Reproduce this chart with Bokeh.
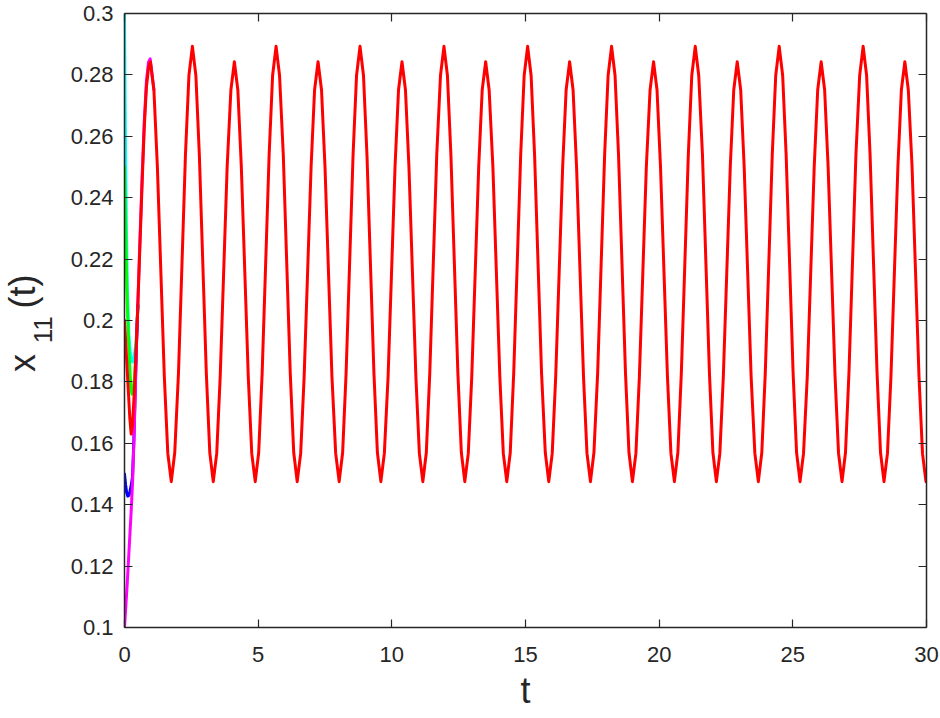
from math import pi
from bokeh.plotting import figure
from bokeh.layouts import row
from bokeh.models import Range1d, FixedTicker, CustomJSTickFormatter, LinearAxis
from bokeh.core.properties import value
from bokeh.embed import file_html
from bokeh.resources import INLINE

# ---- data ----
x_ticks = [0, 5, 10, 15, 20, 25, 30]
y_ticks = [0.1, 0.12, 0.14, 0.16, 0.18, 0.2, 0.22, 0.24, 0.26, 0.28, 0.3]

cyan_t = [0.0, 0.02, 0.045, 0.075, 0.11, 0.16, 0.21, 0.26, 0.3, 0.36, 0.42, 0.46, 0.5]
cyan_x = [0.300, 0.275, 0.250, 0.228, 0.209, 0.196, 0.190, 0.187, 0.1865, 0.188, 0.192, 0.197, 0.205]

green_t = [0.0, 0.03, 0.06, 0.09, 0.12, 0.16, 0.2, 0.24, 0.28, 0.33, 0.38, 0.44, 0.5]
green_x = [0.250, 0.236, 0.222, 0.210, 0.201, 0.192, 0.184, 0.178, 0.176, 0.177, 0.182, 0.193, 0.205]

blue_t = [0.0, 0.04, 0.08, 0.12, 0.16, 0.2, 0.25, 0.3, 0.35, 0.4, 0.45, 0.5]
blue_x = [0.150, 0.1465, 0.144, 0.1428, 0.143, 0.1442, 0.1462, 0.149, 0.161, 0.177, 0.193, 0.205]

magenta_t = [0.0, 0.05, 0.1, 0.15, 0.2, 0.25, 0.3, 0.35, 0.4, 0.45, 0.5, 0.58, 0.66, 0.74, 0.82, 0.9, 0.96, 1.10]
magenta_x = [0.100, 0.107, 0.114, 0.122, 0.130, 0.138, 0.147, 0.160, 0.176, 0.192, 0.206, 0.227, 0.247, 0.265, 0.278, 0.2842, 0.2852, 0.2751]

red_t = [
    0.0, 0.05, 0.1, 0.15, 0.2, 0.25, 0.3, 0.35, 0.42, 0.5, 0.58, 0.66, 0.74, 0.82, 0.9,
    0.97, 1.10, 1.23, 1.36, 1.49, 1.62, 1.75, 1.88, 2.02, 2.15, 2.28, 2.41,
    2.54, 2.67, 2.80, 2.93, 3.06, 3.19, 3.32, 3.45, 3.58, 3.71, 3.84, 3.98,
    4.11, 4.24, 4.37, 4.50, 4.63, 4.76, 4.89, 5.02, 5.15, 5.28, 5.41, 5.54,
    5.67, 5.80, 5.94, 6.07, 6.20, 6.33, 6.46, 6.59, 6.72, 6.85, 6.98, 7.11,
    7.24, 7.37, 7.50, 7.63, 7.76, 7.90, 8.03, 8.16, 8.29, 8.42, 8.55, 8.68,
    8.81, 8.94, 9.07, 9.20, 9.33, 9.46, 9.59, 9.72, 9.86, 9.99, 10.12, 10.25,
    10.38, 10.51, 10.64, 10.77, 10.90, 11.03, 11.16, 11.29, 11.42, 11.55, 11.68, 11.82,
    11.95, 12.08, 12.21, 12.34, 12.47, 12.60, 12.73, 12.86, 12.99, 13.12, 13.25, 13.38,
    13.51, 13.64, 13.78, 13.91, 14.04, 14.17, 14.30, 14.43, 14.56, 14.69, 14.82, 14.95,
    15.08, 15.21, 15.34, 15.47, 15.60, 15.74, 15.87, 16.00, 16.13, 16.26, 16.39, 16.52,
    16.65, 16.78, 16.91, 17.04, 17.17, 17.30, 17.43, 17.56, 17.70, 17.83, 17.96, 18.09,
    18.22, 18.35, 18.48, 18.61, 18.74, 18.87, 19.00, 19.13, 19.26, 19.39, 19.52, 19.66,
    19.79, 19.92, 20.05, 20.18, 20.31, 20.44, 20.57, 20.70, 20.83, 20.96, 21.09, 21.22,
    21.35, 21.48, 21.62, 21.75, 21.88, 22.01, 22.14, 22.27, 22.40, 22.53, 22.66, 22.79,
    22.92, 23.05, 23.18, 23.31, 23.44, 23.58, 23.71, 23.84, 23.97, 24.10, 24.23, 24.36,
    24.49, 24.62, 24.75, 24.88, 25.01, 25.14, 25.27, 25.40, 25.54, 25.67, 25.80, 25.93,
    26.06, 26.19, 26.32, 26.45, 26.58, 26.71, 26.84, 26.97, 27.10, 27.23, 27.36, 27.50,
    27.63, 27.76, 27.89, 28.02, 28.15, 28.28, 28.41, 28.54, 28.67, 28.80, 28.93, 29.06,
    29.19, 29.32, 29.46, 29.59, 29.72, 29.85, 29.98, 30.0,
]
red_x = [
    0.200, 0.192, 0.184, 0.176, 0.168, 0.163, 0.166, 0.174, 0.187, 0.205, 0.225, 0.245, 0.263, 0.276, 0.2825,
    0.2843, 0.2751, 0.2501, 0.2159, 0.1817, 0.1567, 0.1475, 0.1570, 0.1830, 0.2184, 0.2539, 0.2798,
    0.2893, 0.2798, 0.2539, 0.2184, 0.1830, 0.1570, 0.1475, 0.1567, 0.1817, 0.2159, 0.2501, 0.2751,
    0.2843, 0.2751, 0.2501, 0.2159, 0.1817, 0.1567, 0.1475, 0.1570, 0.1830, 0.2184, 0.2539, 0.2798,
    0.2893, 0.2798, 0.2539, 0.2184, 0.1830, 0.1570, 0.1475, 0.1567, 0.1817, 0.2159, 0.2501, 0.2751,
    0.2843, 0.2751, 0.2501, 0.2159, 0.1817, 0.1567, 0.1475, 0.1570, 0.1830, 0.2184, 0.2539, 0.2798,
    0.2893, 0.2798, 0.2539, 0.2184, 0.1830, 0.1570, 0.1475, 0.1567, 0.1817, 0.2159, 0.2501, 0.2751,
    0.2843, 0.2751, 0.2501, 0.2159, 0.1817, 0.1567, 0.1475, 0.1570, 0.1830, 0.2184, 0.2539, 0.2798,
    0.2893, 0.2798, 0.2539, 0.2184, 0.1830, 0.1570, 0.1475, 0.1567, 0.1817, 0.2159, 0.2501, 0.2751,
    0.2843, 0.2751, 0.2501, 0.2159, 0.1817, 0.1567, 0.1475, 0.1570, 0.1830, 0.2184, 0.2539, 0.2798,
    0.2893, 0.2798, 0.2539, 0.2184, 0.1830, 0.1570, 0.1475, 0.1567, 0.1817, 0.2159, 0.2501, 0.2751,
    0.2843, 0.2751, 0.2501, 0.2159, 0.1817, 0.1567, 0.1475, 0.1570, 0.1830, 0.2184, 0.2539, 0.2798,
    0.2893, 0.2798, 0.2539, 0.2184, 0.1830, 0.1570, 0.1475, 0.1567, 0.1817, 0.2159, 0.2501, 0.2751,
    0.2843, 0.2751, 0.2501, 0.2159, 0.1817, 0.1567, 0.1475, 0.1570, 0.1830, 0.2184, 0.2539, 0.2798,
    0.2893, 0.2798, 0.2539, 0.2184, 0.1830, 0.1570, 0.1475, 0.1567, 0.1817, 0.2159, 0.2501, 0.2751,
    0.2843, 0.2751, 0.2501, 0.2159, 0.1817, 0.1567, 0.1475, 0.1570, 0.1830, 0.2184, 0.2539, 0.2798,
    0.2893, 0.2798, 0.2539, 0.2184, 0.1830, 0.1570, 0.1475, 0.1567, 0.1817, 0.2159, 0.2501, 0.2751,
    0.2843, 0.2751, 0.2501, 0.2159, 0.1817, 0.1567, 0.1475, 0.1570, 0.1830, 0.2184, 0.2539, 0.2798,
    0.2893, 0.2798, 0.2539, 0.2184, 0.1830, 0.1570, 0.1475, 0.1567, 0.1817, 0.2159, 0.2501, 0.2751,
    0.2843, 0.2751, 0.2501, 0.2159, 0.1817, 0.1567, 0.1475, 0.1477,
]

y_label_parts = ["x", "11", "(t)"]

# ---- layout constants ----
AX = "#262626"
FONT = "Liberation Sans"
H = 715
LEFT_W = 62

# main plot
p = figure(width=940 - LEFT_W, height=H, output_backend="svg", toolbar_location=None,
           x_range=Range1d(0, 30), y_range=Range1d(0.1, 0.3),
           min_border_left=124 - LEFT_W, min_border_right=14, min_border_top=13, min_border_bottom=88,
           background_fill_color="white", border_fill_color="white")
p.outline_line_color = None
p.xgrid.visible = False
p.ygrid.visible = False

lk = dict(line_width=3, line_join="round", line_cap="round")
p.line(cyan_t, cyan_x, line_color="#00ffff", **lk)
p.line(green_t, green_x, line_color="#00ff00", **lk)
p.line(blue_t, blue_x, line_color="#0000ff", **lk)
p.line(magenta_t, magenta_x, line_color="#ff00ff", **lk)
p.line(red_t, red_x, line_color="#ff0000", **lk)

fmt = CustomJSTickFormatter(code="return String(Math.round(tick*100)/100);")
blank = CustomJSTickFormatter(code="return '';")

def style_axis(ax, ticks, show_labels):
    ax.ticker = FixedTicker(ticks=ticks)
    ax.minor_tick_line_color = None
    ax.major_tick_in = 8
    ax.major_tick_out = 0
    ax.axis_line_color = AX
    ax.axis_line_width = 1.5
    ax.major_tick_line_color = AX
    ax.major_tick_line_width = 1.2
    ax.major_label_text_font = FONT
    ax.major_label_text_color = AX
    ax.major_label_text_font_size = "22px"
    if not show_labels:
        ax.formatter = blank
        ax.major_label_standoff = 0

style_axis(p.xaxis[0], x_ticks, True)
style_axis(p.yaxis[0], y_ticks, True)
p.yaxis[0].formatter = fmt
p.xaxis[0].major_label_standoff = 19
p.yaxis[0].major_label_standoff = 11

p.xaxis[0].axis_label = "t"
p.xaxis[0].axis_label_text_font = FONT
p.xaxis[0].axis_label_text_font_size = "36px"
p.xaxis[0].axis_label_text_font_style = "normal"
p.xaxis[0].axis_label_text_color = AX
p.xaxis[0].axis_label_standoff = 5

top_ax = LinearAxis()
style_axis(top_ax, x_ticks, False)
p.add_layout(top_ax, "above")
right_ax = LinearAxis()
style_axis(right_ax, y_ticks, False)
p.add_layout(right_ax, "right")

# narrow side panel holding the rotated y-axis title x_11(t);
# its frame is aligned with the main frame, so it shares the same y scale
q = figure(width=LEFT_W, height=H, output_backend="svg", toolbar_location=None,
           x_range=Range1d(0, LEFT_W), y_range=Range1d(0.1, 0.3),
           min_border=0, background_fill_color="white", border_fill_color="white")
q.axis.visible = False
q.xgrid.visible = False
q.ygrid.visible = False
q.outline_line_color = None
common = dict(angle=pi / 2, text_align="left", text_baseline="alphabetic",
              text_color=AX, text_font=value(FONT))
q.text(x=[22], y=[0.1832], text=[y_label_parts[0]], text_font_size="36px", **common)
q.text(x=[42], y=[0.1926], text=[y_label_parts[1]], text_font_size="26px", **common)
q.text(x=[22], y=[0.2039], text=[y_label_parts[2]], text_font_size="36px", **common)

layout = row(q, p, spacing=0)
open("out.html", "w").write(file_html(layout, INLINE))
